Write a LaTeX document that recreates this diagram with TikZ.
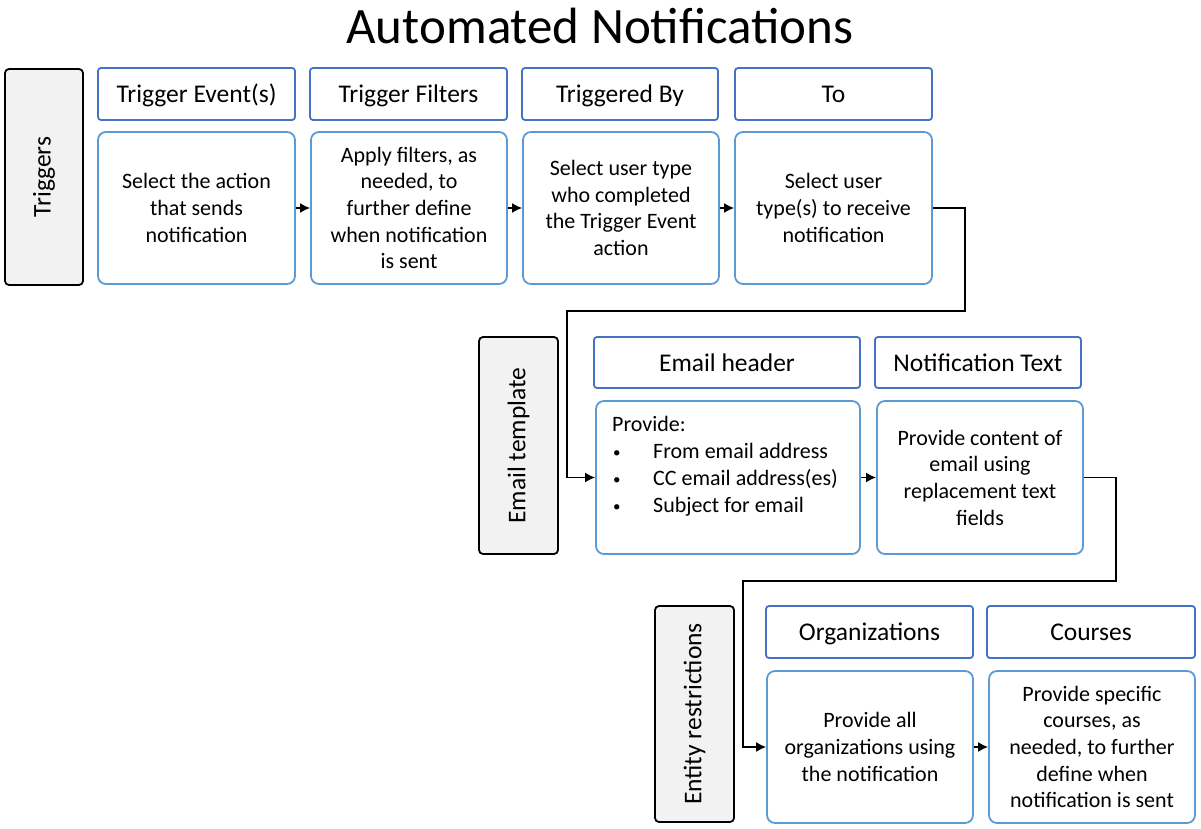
\documentclass[tikz,border=0pt]{standalone}
\usepackage{fontspec}
\setmainfont{Carlito}
\usetikzlibrary{arrows.meta}
\definecolor{hdblue}{HTML}{4472C4}
\definecolor{bdblue}{HTML}{5B9BD5}
\definecolor{sidegray}{HTML}{F2F2F2}
\newcommand{\mybul}{\makebox[41pt][l]{\hspace{1pt}\raisebox{1pt}{\fontsize{15}{15}\selectfont\textbullet}}}
\begin{document}
\begin{tikzpicture}[x=1pt,y=1pt,
  sidebox/.style={draw=black,line width=1.8pt,fill=sidegray,rounded corners=4pt,inner sep=0pt},
  sidetext/.style={rotate=90,font=\fontsize{25.5}{31}\selectfont},
  headbox/.style={draw=hdblue,line width=1.8pt,fill=white,rounded corners=3pt,inner sep=0pt,
     font=\fontsize{25.5}{31}\selectfont,text height=17pt,text depth=0pt},
  bodybox/.style={draw=bdblue,line width=1.8pt,fill=white,rounded corners=8pt,inner sep=0pt,
     font=\fontsize{22}{26.7}\selectfont,align=center},
  conn/.style={draw=black,line width=1.6pt,-{Latex[length=10pt,width=10pt]}}
]
\useasboundingbox (0,0) rectangle (1201,-829);

\node[font=\fontsize{51}{60}\selectfont,anchor=base] (title) at (600,-44) {Automated Notifications};

% Triggers row
\node[sidebox,minimum width=78pt,minimum height=216pt] (s1) at (44,-177) {};
\node[sidetext] (s1t) at (s1.center) {Triggers};

\node[headbox,minimum width=197pt,minimum height=52pt] (h1) at (196.5,-94) {Trigger Event(s)};
\node[headbox,minimum width=197pt,minimum height=52pt] (h2) at (408.5,-94) {Trigger Filters};
\node[headbox,minimum width=196pt,minimum height=52pt] (h3) at (620,-94) {Triggered By};
\node[headbox,minimum width=197pt,minimum height=52pt] (h4) at (833.5,-94) {To};

\node[bodybox,minimum width=197pt,minimum height=152pt] (b1) at (196.5,-208) {Select the action\\that sends\\notification};
\node[bodybox,minimum width=196pt,minimum height=152pt] (b2) at (409,-208) {Apply filters, as\\needed, to\\further define\\when notification\\is sent};
\node[bodybox,minimum width=196pt,minimum height=152pt] (b3) at (621,-208) {Select user type\\who completed\\the Trigger Event\\action};
\node[bodybox,minimum width=197pt,minimum height=152pt] (b4) at (833.5,-208) {Select user\\type(s) to receive\\notification};

\draw[conn] (b1.east) -- (b2.west);
\draw[conn] (b2.east) -- (b3.west);
\draw[conn] (b3.east) -- (b4.west);

% Email template row
\node[sidebox,minimum width=79pt,minimum height=217pt] (s2) at (518.5,-445.5) {};
\node[sidetext] (s2t) at (s2.center) {Email template};

\node[headbox,minimum width=266pt,minimum height=51pt] (h5) at (727,-362.5) {Email header};
\node[headbox,minimum width=206pt,minimum height=51pt] (h6) at (978,-362.5) {Notification Text};

\node[bodybox,minimum width=264pt,minimum height=153pt] (b5) at (728,-477.5) {};
\node[font=\fontsize{22}{26.7}\selectfont,align=left,anchor=north west,inner sep=0pt] (b5t) at (612,-416.5)
  {Provide:\\\mybul From email address\\\mybul CC email address(es)\\\mybul Subject for email};
\node[bodybox,minimum width=206pt,minimum height=153pt] (b6) at (980,-477.5) {Provide content of\\email using\\replacement text\\fields};

\draw[conn] (b5.east) -- (b6.west);

% Entity restrictions row
\node[sidebox,minimum width=79pt,minimum height=216pt] (s3) at (694.5,-714) {};
\node[sidetext] (s3t) at (s3.center) {Entity restrictions};

\node[headbox,minimum width=207pt,minimum height=52pt] (h7) at (869.5,-632) {Organizations};
\node[headbox,minimum width=208pt,minimum height=52pt] (h8) at (1091,-632) {Courses};

\node[bodybox,minimum width=206pt,minimum height=152pt] (b7) at (870,-747) {Provide all\\organizations using\\the notification};
\node[bodybox,minimum width=206pt,minimum height=152pt] (b8) at (1092,-747) {Provide specific\\courses, as\\needed, to further\\define when\\notification is sent};

\draw[conn] (b7.east) -- (b8.west);

% long connectors
\coordinate (k1) at (965,-311);
\coordinate (k2) at (567,-311);
\coordinate (k3) at (1116,-581);
\coordinate (k4) at (743,-581);
\draw[conn] (b4.east) -| (k1) -- (k2) |- (b5.west);
\draw[conn] (b6.east) -| (k3) -- (k4) |- (b7.west);
\end{tikzpicture}
\end{document}
